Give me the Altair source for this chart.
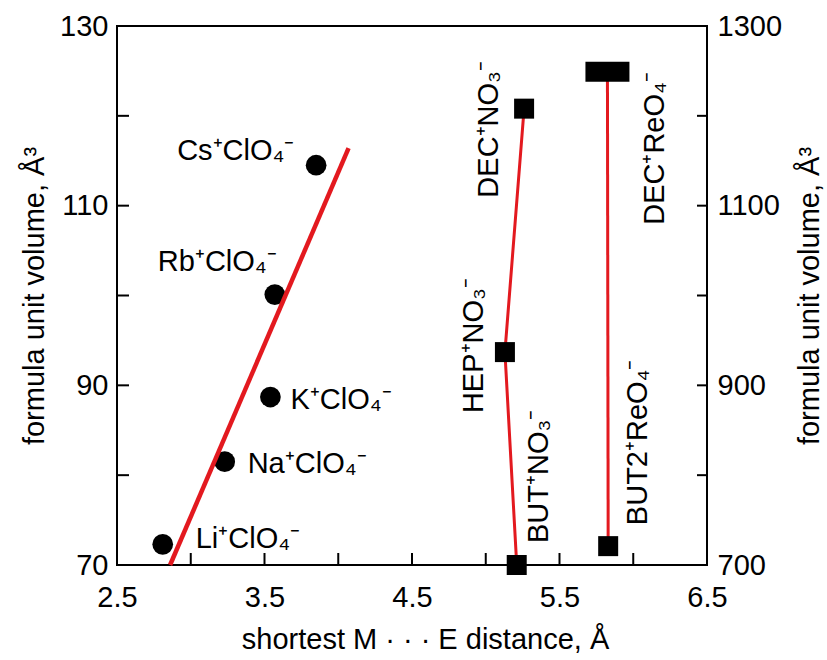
import altair as alt
import pandas as pd

# ---------------- data ----------------
perchlorate_labels = ["Li⁺ClO₄⁻", "Na⁺ClO₄⁻", "K⁺ClO₄⁻", "Rb⁺ClO₄⁻", "Cs⁺ClO₄⁻"]
perchlorate_distance = [2.81, 3.23, 3.54, 3.57, 3.85]
perchlorate_volume = [72.3, 81.5, 88.7, 100.1, 114.5]

fit_distance = [2.86, 4.07]
fit_volume = [70.0, 116.4]

nitrate_labels = ["BUT⁺NO₃⁻", "HEP⁺NO₃⁻", "DEC⁺NO₃⁻"]
nitrate_distance = [5.21, 5.13, 5.26]
nitrate_volume = [700, 937, 1208]

perrhenate_labels = ["BUT2⁺ReO₄⁻", "DEC⁺ReO₄⁻"]
perrhenate_distance = [5.83, 5.825]
perrhenate_volume = [721, 1249]

x_ticks = [2.5, 3.0, 3.5, 4.0, 4.5, 5.0, 5.5, 6.0, 6.5]
x_tick_labels = [2.5, 3.5, 4.5, 5.5, 6.5]
left_ticks = [70, 80, 90, 100, 110, 120, 130]
left_tick_labels = [70, 90, 110, 130]
right_ticks = [700, 800, 900, 1000, 1100, 1200, 1300]
right_tick_labels = [700, 900, 1100, 1300]

x_title = "shortest M · · · E distance, Å"
y_title = "formula unit volume, Å³"

# ---------------- styles ----------------
FONT = "Liberation Sans"
FS = 29
RED = "#e3191f"
W, H = 590, 539

# label placement: (dx, dy, angle)
label_layout = {
    "Cs⁺ClO₄⁻": (-139, -5, 0),
    "Rb⁺ClO₄⁻": (-117, -24, 0),
    "K⁺ClO₄⁻": (20, 12, 0),
    "Na⁺ClO₄⁻": (23, 11, 0),
    "Li⁺ClO₄⁻": (33, 4, 0),
    "DEC⁺NO₃⁻": (-89, -26, 270),
    "HEP⁺NO₃⁻": (-61, -22, 270),
    "BUT⁺NO₃⁻": (22, 31, 270),
    "BUT2⁺ReO₄⁻": (21, 39, 270),
    "DEC⁺ReO₄⁻": (-153, 57, 270),
}

left_df = pd.DataFrame({"label": perchlorate_labels, "dist": perchlorate_distance, "vol": perchlorate_volume})
fit_df = pd.DataFrame({"dist": fit_distance, "vol": fit_volume})
nit_df = pd.DataFrame({"label": nitrate_labels, "dist": nitrate_distance, "vol": nitrate_volume})
per_df = pd.DataFrame({"label": perrhenate_labels, "dist": perrhenate_distance, "vol": perrhenate_volume})
right_df = pd.concat([nit_df, per_df], ignore_index=True)
xt_df = pd.DataFrame({"t": x_ticks})
lt_df = pd.DataFrame({"t": left_ticks})
rt_df = pd.DataFrame({"t": right_ticks})

x_scale = alt.Scale(domain=[2.5, 6.5], nice=False, zero=False)
yl_scale = alt.Scale(domain=[70, 130], nice=False, zero=False)
yr_scale = alt.Scale(domain=[700, 1300], nice=False, zero=False)

x_axis = alt.Axis(values=x_tick_labels, format=".1f", title=x_title, ticks=False, tickSize=0,
                  domain=False, grid=False, labelPadding=18, labelFlush=False, labelOverlap=False,
                  titleX=308, titleAlign="center", titleY=83, titleBaseline="alphabetic")
yl_axis = alt.Axis(values=left_tick_labels, format="d", title=y_title, orient="left", ticks=False,
                   tickSize=0, domain=False, grid=False, labelPadding=9, labelFlush=False,
                   labelOverlap=False, titleAngle=270, titleX=-74, titleBaseline="alphabetic")
yr_axis = alt.Axis(values=right_tick_labels, format="d", title=y_title, orient="right", ticks=False,
                   tickSize=0, domain=False, grid=False, labelPadding=10, labelFlush=False,
                   labelOverlap=False, titleAngle=270, titleX=111, titleBaseline="alphabetic")


def X(f):
    return alt.X(f"{f}:Q", scale=x_scale, axis=x_axis)


def YL(f):
    return alt.Y(f"{f}:Q", scale=yl_scale, axis=yl_axis)


def YR(f):
    return alt.Y(f"{f}:Q", scale=yr_scale, axis=yr_axis)


def labels(df, yfun, names):
    layers = []
    for n in names:
        dx, dy, ang = label_layout[n]
        layers.append(
            alt.Chart(df).transform_filter(alt.datum.label == n).mark_text(
                align="left", baseline="alphabetic", dx=dx, dy=dy, angle=ang,
                font=FONT, fontSize=FS, color="black"
            ).encode(x=X("dist"), y=yfun("vol"), text="label:N")
        )
    return layers


# ---------------- left group ----------------
left_ticks_rule = alt.Chart(lt_df).mark_rule(color="black", strokeWidth=2).encode(
    y=YL("t"), x=alt.value(0), x2=alt.value(12))
bottom_ticks_rule = alt.Chart(xt_df).mark_rule(color="black", strokeWidth=2).encode(
    x=X("t"), y=alt.value(H - 12), y2=alt.value(H))
circles = alt.Chart(left_df).mark_circle(size=430, color="black", opacity=1).encode(
    x=X("dist"), y=YL("vol"))
fit_line = alt.Chart(fit_df).mark_line(color=RED, strokeWidth=4.5).encode(
    x=X("dist"), y=YL("vol"))
left_group = alt.layer(left_ticks_rule, bottom_ticks_rule, circles, fit_line,
                       *labels(left_df, YL, perchlorate_labels))

# ---------------- right group ----------------
right_ticks_rule = alt.Chart(rt_df).mark_rule(color="black", strokeWidth=2).encode(
    y=YR("t"), x=alt.value(W - 10), x2=alt.value(W))
nit_line = alt.Chart(nit_df).mark_line(color=RED, strokeWidth=3).encode(
    x=X("dist"), y=YR("vol"), order=alt.Order("vol:Q"))
per_line = alt.Chart(per_df).mark_line(color=RED, strokeWidth=3).encode(
    x=X("dist"), y=YR("vol"), order=alt.Order("vol:Q"))
squares = alt.Chart(right_df).transform_filter(alt.datum.label != "DEC⁺ReO₄⁻").mark_square(
    size=400, color="black", opacity=1).encode(x=X("dist"), y=YR("vol"))
wide = alt.Chart(per_df).transform_filter(alt.datum.label == "DEC⁺ReO₄⁻").mark_point(
    shape="M-1.1,-0.5L1.1,-0.5L1.1,0.5L-1.1,0.5Z", size=1600, filled=True, color="black",
    opacity=1).encode(x=X("dist"), y=YR("vol"))
right_group = alt.layer(right_ticks_rule, nit_line, per_line, squares, wide,
                        *labels(right_df, YR, nitrate_labels + perrhenate_labels))

chart = alt.layer(left_group, right_group).resolve_scale(y="independent").properties(
    width=W, height=H,
    autosize=alt.AutoSizeParams(type="none"),
    padding={"left": 117, "top": 26, "right": 827 - 117 - W, "bottom": 660 - 26 - H},
    background="white",
).configure_view(stroke="black", strokeWidth=2).configure_axis(
    labelFont=FONT, labelFontSize=FS, labelColor="black",
    titleFont=FONT, titleFontSize=FS, titleColor="black", titleFontWeight="normal",
)

chart.save("out.html", embed_options={"renderer": "svg", "actions": False})
